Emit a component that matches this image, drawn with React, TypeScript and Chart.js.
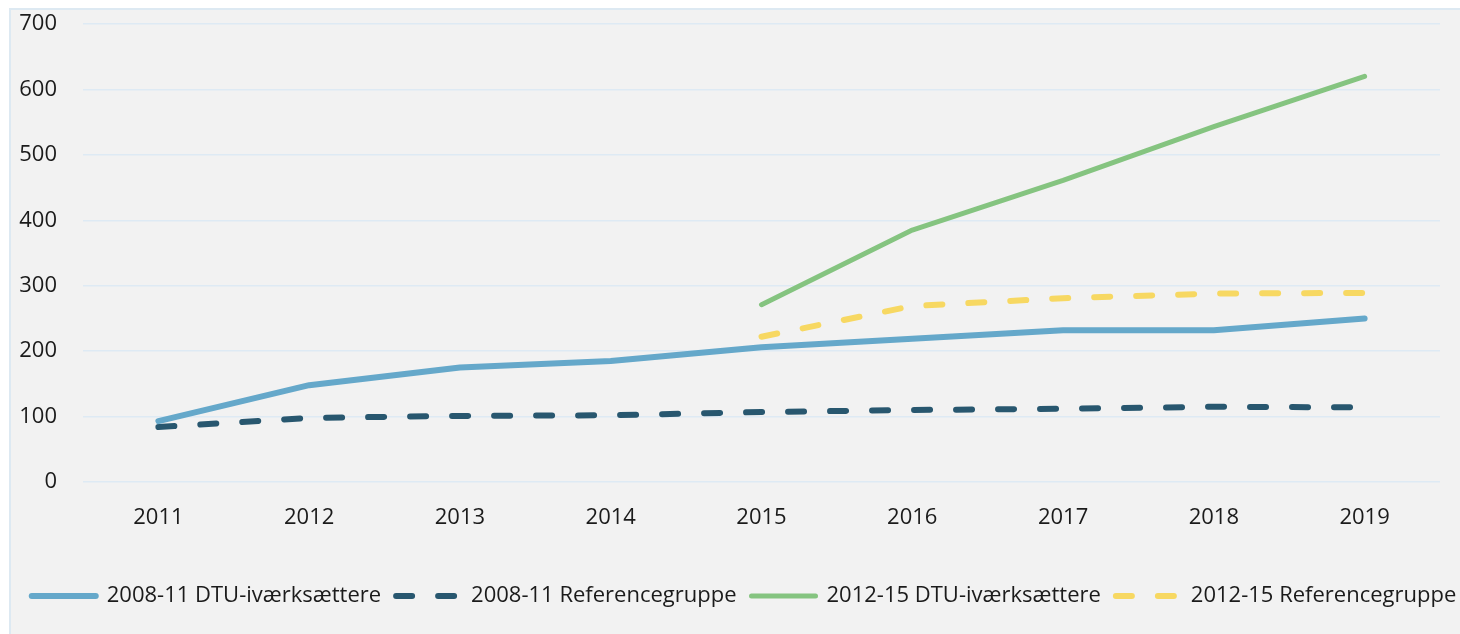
import { useEffect, useRef } from 'react';
import { Chart, registerables } from 'chart.js';

Chart.register(...registerables);

const years = ['2011', '2012', '2013', '2014', '2015', '2016', '2017', '2018', '2019'];
const dtu0811 = [93, 148, 175, 185, 206, 219, 232, 232, 250];
const ref0811 = [84, 98, 101, 102, 107, 110, 112, 115, 114];
const dtu1215 = [null, null, null, null, 271, 385, 461, 543, 620];
const ref1215 = [null, null, null, null, 222, 269, 281, 288, 289];
const seriesNames = [
  '2008-11 DTU-iværksættere',
  '2008-11 Referencegruppe',
  '2012-15 DTU-iværksættere',
  '2012-15 Referencegruppe',
];
const yMin = 0;
const yMax = 700;
const yStep = 100;

const FONT = "'Open Sans', 'DejaVu Sans', sans-serif";
const TEXT = '#1b1b1b';
const CANVAS_W = 1470;
const CANVAS_H = 624;

export default function App() {
  const ref = useRef<HTMLCanvasElement | null>(null);

  useEffect(() => {
    if (!ref.current) return;
    const chart = new Chart(ref.current, {
      type: 'line',
      data: {
        labels: years,
        datasets: [
          { label: seriesNames[0], data: dtu0811, borderColor: '#65a8ca', backgroundColor: '#65a8ca', borderWidth: 6, borderCapStyle: 'round', borderJoinStyle: 'round', pointRadius: 0 },
          { label: seriesNames[1], data: ref0811, borderColor: '#28576f', backgroundColor: '#28576f', borderWidth: 6, borderDash: [16, 26], borderCapStyle: 'round', borderJoinStyle: 'round', pointRadius: 0 },
          { label: seriesNames[2], data: dtu1215, borderColor: '#85c480', backgroundColor: '#85c480', borderWidth: 5, borderCapStyle: 'round', borderJoinStyle: 'round', pointRadius: 0 },
          { label: seriesNames[3], data: ref1215, borderColor: '#f7d862', backgroundColor: '#f7d862', borderWidth: 6, borderDash: [16, 26], borderCapStyle: 'round', borderJoinStyle: 'round', pointRadius: 0 },
        ],
      },
      options: {
        animation: false,
        responsive: false,
        devicePixelRatio: 1,
        layout: { padding: { left: 0, right: 0, top: 14, bottom: 17 } },
        plugins: {
          tooltip: { enabled: false },
          legend: {
            position: 'bottom',
            labels: {
              usePointStyle: true,
              pointStyle: 'line',
              pointStyleWidth: 64,
              padding: 15,
              color: TEXT,
              font: { family: FONT, size: 22 },
              generateLabels: (c: any) => {
                const items = (Chart as any).defaults.plugins.legend.labels.generateLabels(c);
                return items.map((it: any) => {
                  const ds: any = c.data.datasets[it.datasetIndex];
                  return {
                    ...it,
                    lineDash: ds.borderDash || [],
                    lineCap: 'round',
                    lineWidth: ds.borderWidth,
                    strokeStyle: ds.borderColor,
                  };
                });
              },
            },
          },
        },
        scales: {
          x: {
            offset: true,
            grid: { display: false, drawTicks: false },
            border: { display: false },
            ticks: { color: TEXT, font: { family: FONT, size: 22 }, padding: 23 },
            afterFit: (s: any) => { s.height = s.height + 15.6; },
          },
          y: {
            min: yMin, max: yMax,
            grid: { color: '#deeaf4', lineWidth: 1.5, drawTicks: true, tickLength: 26, tickColor: 'rgba(0,0,0,0)' },
            border: { display: false },
            ticks: { stepSize: yStep, color: TEXT, font: { family: FONT, size: 22 }, padding: 0 },
            afterFit: (s: any) => { s.width = 74; },
          },
          y2: {
            position: 'right', display: true,
            grid: { display: false, drawTicks: false }, border: { display: false }, ticks: { display: false },
            afterFit: (s: any) => { s.width = 39; },
          },
        },
      },
    });
    return () => chart.destroy();
  }, []);

  return (
    <div style={{ position: 'absolute', left: 9, top: 8, width: 1451, height: 626, boxSizing: 'border-box', background: '#f2f2f2', borderTop: '2px solid #dde9f2', borderLeft: '2px solid #dde9f2', overflow: 'hidden' }}>
      <canvas ref={ref} width={CANVAS_W} height={CANVAS_H} style={{ position: 'absolute', left: -2, top: 0, width: CANVAS_W, height: CANVAS_H }} />
    </div>
  );
}
